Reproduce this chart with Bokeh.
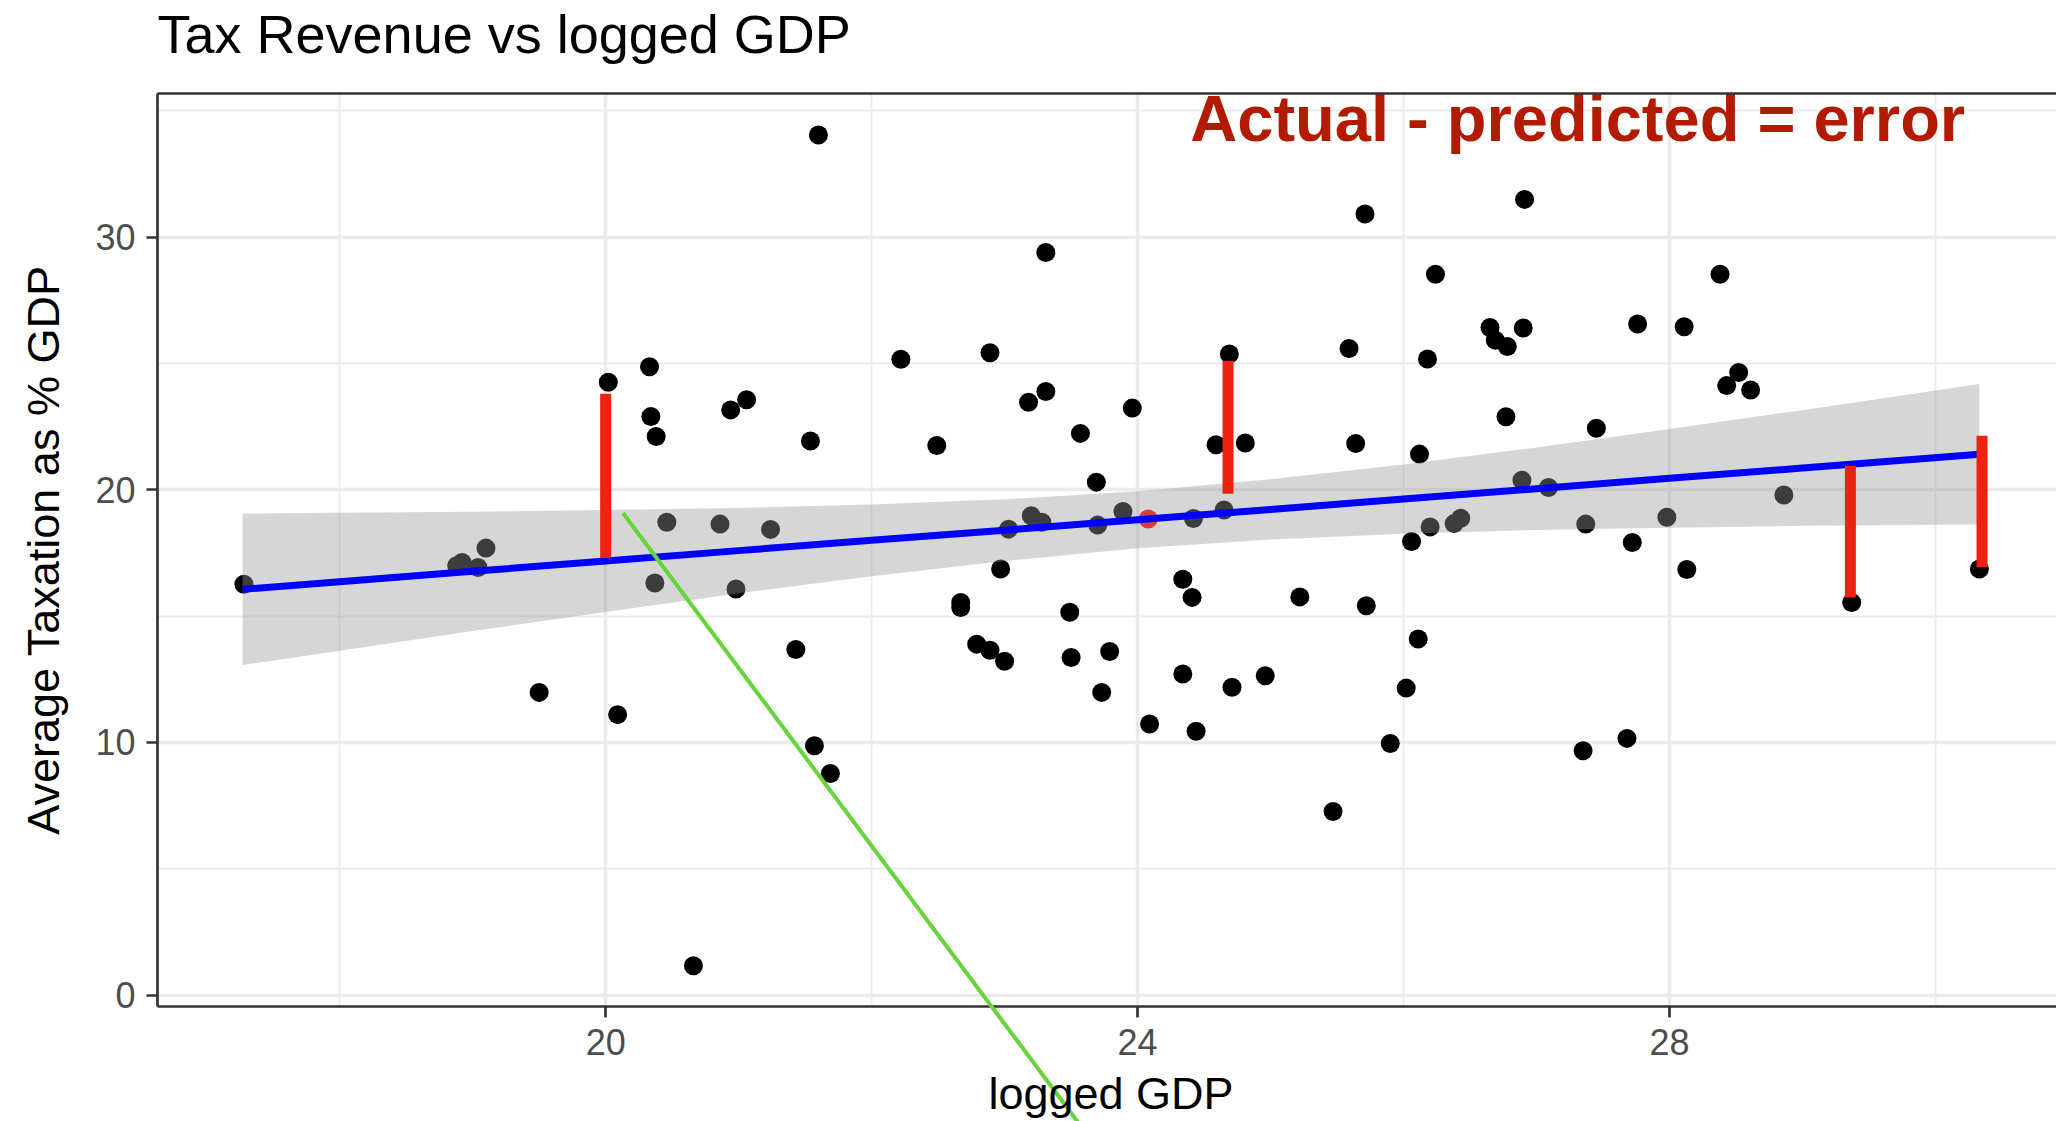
from bokeh.plotting import figure
from bokeh.models import SingleIntervalTicker, FixedTicker, LinearAxis, Range1d
from bokeh.core.properties import value
from bokeh.embed import file_html
from bokeh.resources import INLINE

# ---- data ----
gdp_log = [17.28, 18.88, 18.92, 19.04, 19.10, 19.50, 20.02, 20.09, 20.33, 20.34,
           20.38, 20.37, 20.46, 20.66, 20.86, 20.94, 20.98, 21.06, 21.24, 21.43,
           21.54, 21.57, 21.60, 21.69, 22.22, 22.49, 22.67, 22.67, 22.79, 22.89,
           22.89, 22.97, 23.00, 23.03, 23.18, 23.20, 23.28, 23.31, 23.31, 23.49,
           23.50, 23.57, 23.69, 23.70, 23.73, 23.79, 23.89, 23.96, 24.09, 24.34,
           24.34, 24.41, 24.42, 24.44, 24.59, 24.65, 24.69, 24.71, 24.81, 24.96,
           25.22, 25.47, 25.59, 25.64, 25.71, 25.72, 25.90, 26.02, 26.06, 26.11,
           26.12, 26.18, 26.20, 26.24, 26.38, 26.43, 26.65, 26.69, 26.77, 26.78,
           26.89, 26.90, 26.91, 27.09, 27.35, 27.37, 27.45, 27.68, 27.72, 27.76,
           27.98, 28.11, 28.13, 28.38, 28.43, 28.52, 28.61, 28.86, 29.37, 30.33]
tax_avg = [16.26, 16.99, 17.12, 16.92, 17.69, 11.98, 24.25, 11.10, 24.87, 22.90,
           22.11, 16.31, 18.71, 1.16, 18.64, 23.16, 16.07, 23.56, 18.43, 13.68,
           21.93, 9.87, 34.04, 8.77, 25.16, 21.75, 15.54, 15.34, 13.89, 25.42,
           13.65, 16.86, 13.21, 18.44, 23.46, 18.97, 18.71, 23.89, 29.39, 15.15,
           13.36, 22.23, 20.30, 18.60, 11.98, 13.60, 19.14, 23.23, 10.73, 16.46,
           12.71, 15.74, 18.86, 10.44, 21.78, 19.20, 25.37, 12.18, 21.85, 12.64,
           15.76, 7.27, 25.59, 21.83, 30.91, 15.41, 9.96, 12.15, 17.95, 14.09,
           21.41, 25.17, 18.53, 28.53, 18.66, 18.87, 26.42, 25.92, 22.89, 25.67,
           20.38, 26.40, 31.49, 20.09, 9.67, 18.64, 22.43, 10.16, 17.91, 26.56,
           18.91, 26.45, 16.84, 28.53, 24.12, 24.64, 23.95, 19.79, 15.54, 16.86]

mean_x = [24.08]
mean_y = [18.84]

# smoother (linear fit) and its confidence band
band_x = [17.27, 18, 19, 20, 21, 22, 23, 24, 25, 26, 27, 28, 29, 30.33]
fit_y = [16.06, 16.36, 16.77, 17.18, 17.59, 18.00, 18.40, 18.81, 19.22, 19.63,
         20.04, 20.45, 20.86, 21.40]
band_lo = [13.06, 13.63, 14.41, 15.16, 15.90, 16.58, 17.18, 17.68, 18.03, 18.26,
           18.41, 18.50, 18.57, 18.62]
band_hi = [19.06, 19.09, 19.13, 19.20, 19.28, 19.42, 19.62, 19.94, 20.41, 21.00,
           21.67, 22.40, 23.15, 24.18]

# hand-drawn residual marks
err_x = [20.00, 24.68, 29.36, 30.35]
err_top = [23.80, 25.10, 20.95, 22.14]
err_bot = [17.30, 19.84, 15.74, 16.93]

# hand-drawn green line
green_x = [20.13, 23.69]
green_y = [19.08, -6.0]

note_x = [27.31]
note_y = [34.70]
note_text = ["Actual - predicted = error"]

title_text = ["Tax Revenue vs logged GDP"]
x_title = ["logged GDP"]
y_title = "Average Taxation as % GDP"

X_START, X_END = 16.63, 30.91
Y_START, Y_END = -0.45, 35.68
# text anchors (data units, outside the panel)
title_x, title_y = [X_START], [38.04]
x_title_x, x_title_y = [23.80], [-3.90]

FONT = "Liberation Sans"
W, H = 2056, 1121
ML, MT, MB = 157, 93, 115

p = figure(width=W, height=H, output_backend="svg", toolbar_location=None,
           x_range=Range1d(X_START, X_END), y_range=Range1d(Y_START, Y_END),
           min_border_left=ML, min_border_right=0, min_border_top=MT,
           min_border_bottom=MB,
           background_fill_color="white", border_fill_color="white")
p.outline_line_color = None

# axes
p.xaxis.ticker = SingleIntervalTicker(interval=4, num_minor_ticks=2)
p.yaxis.ticker = SingleIntervalTicker(interval=10, num_minor_ticks=2)
for ax in (p.xaxis[0], p.yaxis[0]):
    ax.axis_line_color = "#333333"
    ax.axis_line_width = 2.7
    ax.major_tick_line_color = "#333333"
    ax.major_tick_line_width = 2.7
    ax.major_tick_out = 11
    ax.major_tick_in = 0
    ax.minor_tick_out = 0
    ax.minor_tick_in = 0
    ax.major_label_text_font = FONT
    ax.major_label_text_font_size = "36px"
    ax.major_label_text_color = "#4D4D4D"
    ax.axis_label_text_font = FONT
    ax.axis_label_text_font_size = "45px"
    ax.axis_label_text_font_style = "normal"
    ax.axis_label_text_color = "black"
p.yaxis.axis_label = y_title
p.xaxis.major_label_standoff = 11
p.yaxis.major_label_standoff = 11
p.yaxis.axis_label_standoff = 23

top_axis = LinearAxis(ticker=FixedTicker(ticks=[]), axis_line_color="#333333",
                      axis_line_width=2.7, major_tick_out=0, major_tick_in=0,
                      minor_tick_out=0, minor_tick_in=0)
p.add_layout(top_axis, "above")

for g in (p.xgrid[0], p.ygrid[0]):
    g.grid_line_color = "#EBEBEB"
    g.grid_line_width = 3.5
    g.minor_grid_line_color = "#EBEBEB"
    g.minor_grid_line_width = 1.8

# points
p.scatter(gdp_log, tax_avg, size=19, fill_color="black", line_color=None)
p.scatter(mean_x, mean_y, size=19, fill_color="red", line_color=None)

# confidence band and fit
p.varea(x=band_x, y1=band_lo, y2=band_hi, fill_color="#999999", fill_alpha=0.4)
p.line(band_x, fit_y, line_color="blue", line_width=7)

# residual marks
p.segment(x0=err_x, y0=err_top, x1=err_x, y1=err_bot, line_color="#EE2211",
          line_width=11)

# green line, drawn above the frame so it can leave the panel
p.line(green_x, green_y, line_color="#66D43A", line_width=4, level="overlay")

p.text(x=note_x, y=note_y, text=note_text, text_font=value(FONT),
       text_font_style="bold", text_font_size="65px", text_color="#B31B00",
       text_align="center", text_baseline="alphabetic")

# title and x-axis title (overlay level so they are not clipped to the panel)
p.text(x=title_x, y=title_y, text=title_text, text_font=value(FONT),
       text_font_size="54px", text_color="black", text_align="left",
       text_baseline="alphabetic", level="overlay")
p.text(x=x_title_x, y=x_title_y, text=x_title, text_font=value(FONT),
       text_font_size="45px", text_color="black", text_align="center",
       text_baseline="alphabetic", level="overlay")

open("out.html", "w").write(file_html(p, INLINE))
